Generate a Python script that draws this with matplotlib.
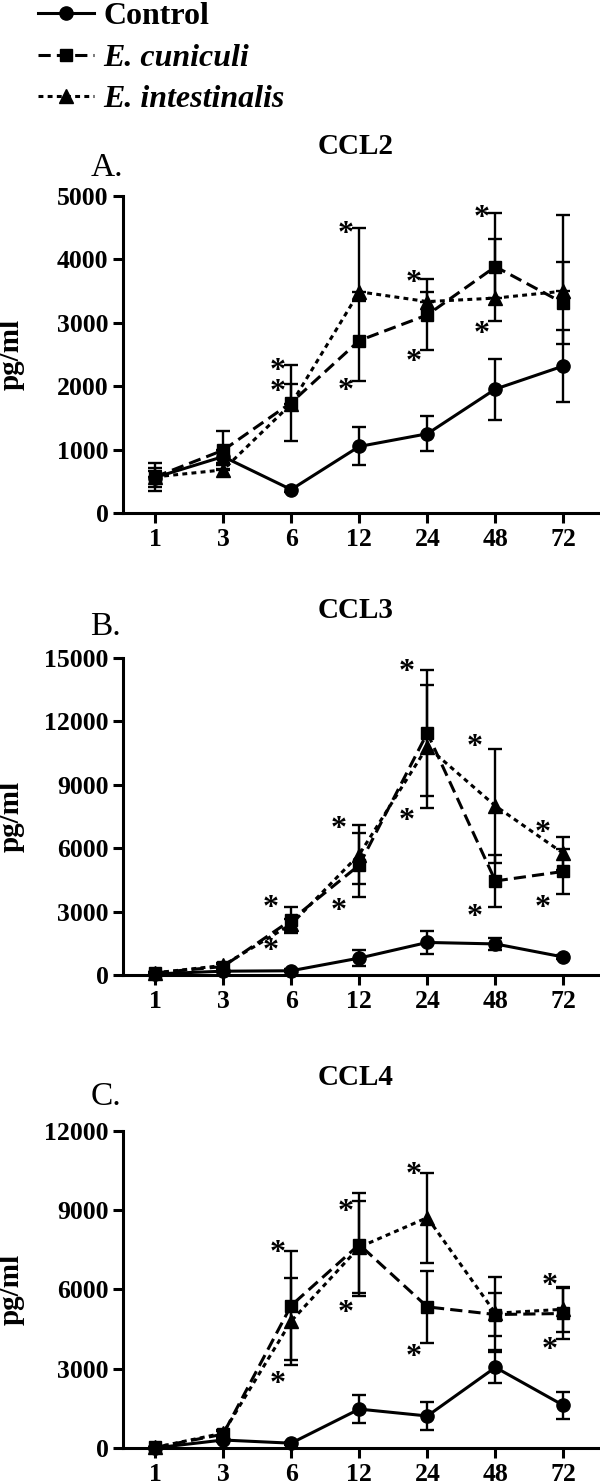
"""Chemokine time course (CCL2, CCL3, CCL4) for control and microsporidia groups."""

import matplotlib
matplotlib.use("Agg")
import matplotlib.pyplot as plt
from matplotlib.lines import Line2D

plt.rcParams["font.family"] = ["Liberation Serif", "DejaVu Serif"]

hours = ["1", "3", "6", "12", "24", "48", "72"]
panels = ["A.", "B.", "C."]
titles = ["CCL2", "CCL3", "CCL4"]
y_max = [5000, 15000, 12000]
y_step = [1000, 3000, 3000]

# CCL2
ccl2_ctrl = [560, 890, 370, 1050, 1250, 1955, 2320]
ccl2_ctrl_sem = [150, 100, 40, 300, 275, 480, 565]
ccl2_ec = [570, 990, 1740, 2720, 3125, 3886, 3310]
ccl2_ec_sem = [220, 300, 600, 630, 560, 850, 645]
ccl2_ei = [570, 680, 1720, 3490, 3335, 3390, 3500]
ccl2_ei_sem = [100, 80, 310, 1000, 150, 930, 1200]
ccl2_ei_lo = [0, 0, 0, 0, 0, 0, 0]

# CCL3
ccl3_ctrl = [50, 180, 200, 800, 1540, 1470, 850]
ccl3_ctrl_sem = [30, 50, 60, 380, 540, 280, 100]
ccl3_ec = [100, 400, 2600, 5200, 11450, 4450, 4900]
ccl3_ec_sem = [50, 100, 620, 1500, 3000, 1230, 1050]
ccl3_ei = [100, 450, 2400, 5700, 10800, 8000, 5750]
ccl3_ei_sem = [50, 100, 250, 1400, 2900, 2700, 800]

# CCL4
ccl4_ctrl = [0, 300, 180, 1470, 1210, 3050, 1610]
ccl4_ctrl_sem = [20, 80, 60, 530, 520, 580, 520]
ccl4_ec = [20, 520, 5390, 7700, 5340, 5050, 5090]
ccl4_ec_sem = [20, 150, 2050, 1950, 1350, 800, 950]
ccl4_ei = [20, 560, 4800, 7600, 8720, 5100, 5250]
ccl4_ei_sem = [20, 100, 1650, 1750, 1700, 1380, 850]

# significance stars: (time index, value)
ccl2_stars = [(2, 2340), (2, 2000), (3, 4490), (3, 2022), (4, 3729), (4, 2468), (5, 4753), (5, 2915)]
ccl3_stars = [(2, 3470), (2, 1420), (3, 7180), (3, 3320), (4, 14600), (4, 7580), (5, 11050), (5, 3000),
              (6, 7000), (6, 3470)]
ccl4_stars = [(2, 7616), (2, 2652), (3, 9157), (3, 5342), (4, 10546), (4, 3663), (6, 6353), (6, 3915)]

series = [
    [(ccl2_ctrl, ccl2_ctrl_sem, ccl2_ctrl_sem), (ccl2_ec, ccl2_ec_sem, ccl2_ec_sem), (ccl2_ei, ccl2_ei_lo, ccl2_ei_sem)],
    [(ccl3_ctrl, ccl3_ctrl_sem, ccl3_ctrl_sem), (ccl3_ec, ccl3_ec_sem, ccl3_ec_sem), (ccl3_ei, ccl3_ei_sem, ccl3_ei_sem)],
    [(ccl4_ctrl, ccl4_ctrl_sem, ccl4_ctrl_sem), (ccl4_ec, ccl4_ec_sem, ccl4_ec_sem), (ccl4_ei, ccl4_ei_sem, ccl4_ei_sem)],
]
stars = [ccl2_stars, ccl3_stars, ccl4_stars]

styles = [
    dict(linestyle="-", marker="o", markersize=9.5),
    dict(linestyle=(0, (4, 2)), marker="s", markersize=9),
    dict(linestyle=(0, (1.6, 1.4)), marker="^", markersize=10.5),
]
labels = ["Control", "E. cuniculi", "E. intestinalis"]

# layout (figure fractions / axes offsets)
ax_bottoms = [0.6543, 0.3430, 0.0243]
title_y = [1.155, 1.151, 1.170]
letter_y = [1.088, 1.098, 1.107]
star_dx = [-0.2, -0.3, -0.2]

fig = plt.figure(figsize=(6, 14.84), dpi=100)
x = list(range(len(hours)))

for k in range(3):
    ax = fig.add_axes([0.205, ax_bottoms[k], 0.792, 0.2136])
    for (vals, lo, hi), st in zip(series[k], styles):
        ax.errorbar(x, vals, yerr=[lo, hi], color="black", lw=2.2, elinewidth=1.7,
                    capsize=5, capthick=1.7, clip_on=False, **st)
    for i, v in stars[k]:
        ax.annotate("*", (i + star_dx[k], v), xytext=(0, -10), textcoords="offset points",
                    ha="center", va="baseline", fontsize=23, fontweight="bold")
    ax.set_xlim(-0.47, 6.51)
    ax.set_ylim(0, y_max[k])
    ax.set_xticks(x)
    ax.set_xticklabels(hours)
    ax.set_yticks(range(0, y_max[k] + 1, y_step[k]))
    for side in ("top", "right"):
        ax.spines[side].set_visible(False)
    for side in ("left", "bottom"):
        ax.spines[side].set_linewidth(2.2)
    ax.tick_params(length=7, width=2.2, labelsize=18.5, pad=3.5)
    for lab in ax.get_xticklabels() + ax.get_yticklabels():
        lab.set_fontweight("bold")
    ax.set_ylabel("pg/ml", fontsize=21, fontweight="bold")
    ax.yaxis.set_label_coords(-0.206, 0.5)
    ax.text(0.49, title_y[k], titles[k], transform=ax.transAxes, ha="center", va="center",
            fontsize=21, fontweight="bold")
    ax.text(-0.069, letter_y[k], panels[k], transform=ax.transAxes, ha="left", va="center",
            fontsize=24)

handles = [Line2D([], [], color="black", lw=2.2, **st) for st in styles]
leg = fig.legend(handles, labels, loc="upper left", bbox_to_anchor=(38 / 600, 1 - 2 / 1484),
                 frameon=False, fontsize=23, handlelength=1.75, handletextpad=0.3,
                 labelspacing=0.38, borderpad=0, borderaxespad=0)
for i, t in enumerate(leg.get_texts()):
    t.set_fontweight("bold")
    if i > 0:
        t.set_fontstyle("italic")

fig.savefig("out.png", dpi=100)
